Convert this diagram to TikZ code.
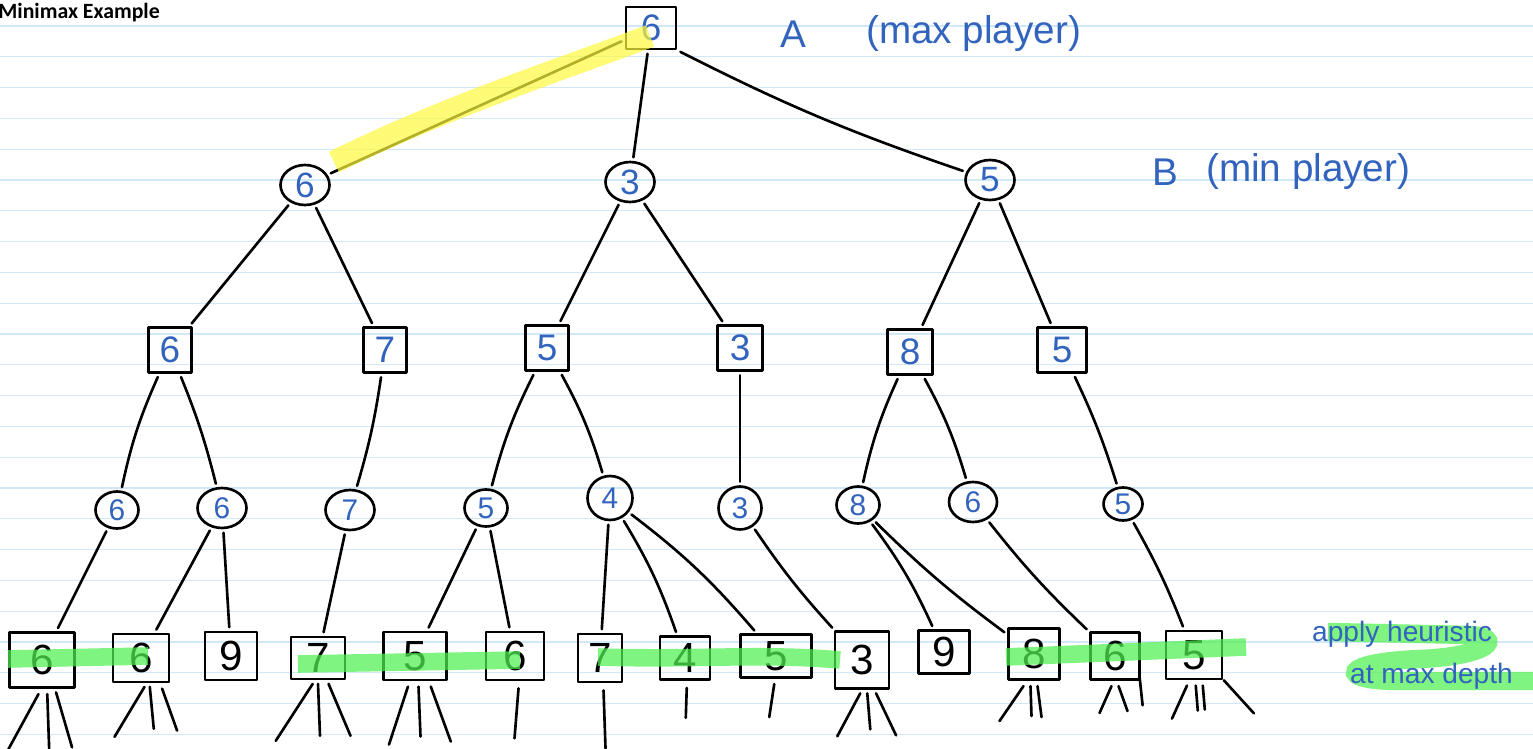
\documentclass[tikz,border=0pt]{standalone}
\usepackage{fontspec}
\setmainfont{Liberation Sans}
\newfontfamily\titlefont{Carlito}
\usetikzlibrary{shapes.geometric}
\definecolor{ink}{RGB}{50,100,190}
\definecolor{ruling}{RGB}{208,232,248}
\definecolor{hlgreen}{RGB}{80,240,80}
\definecolor{hlyellow}{RGB}{255,250,60}
\begin{document}
\begin{tikzpicture}[x=0.02cm,y=-0.02cm,
  stroke/.style={line width=1.5pt,line cap=round,line join=round},
  maxbox/.style={stroke,draw,rectangle,inner sep=0pt,minimum width=0.86cm,minimum height=0.9cm,
    text=ink,font=\fontsize{21}{21}\selectfont},
  minball/.style={stroke,draw,ellipse,inner sep=0pt,minimum width=0.86cm,minimum height=0.74cm,
    text=ink,font=\fontsize{17}{17}\selectfont},
  minbig/.style={minball,minimum width=0.98cm,minimum height=0.8cm,font=\fontsize{20}{20}\selectfont},
  leaf/.style={stroke,draw,rectangle,inner sep=0pt,minimum width=1.08cm,minimum height=0.96cm,
    font=\fontsize{24}{24}\selectfont},
  edge/.style={stroke,shorten <=2pt,shorten >=2pt},
  stub/.style={stroke},
  marker/.style={line width=10pt,line cap=butt,opacity=0.72,draw=hlgreen},
  note/.style={text=ink,font=\fontsize{22}{22}\selectfont},
  smallnote/.style={text=ink,font=\fontsize{16}{16}\selectfont}]

\useasboundingbox (0,0) rectangle (1533,749);
\fill[white] (0,0) rectangle (1533,749);

% ruled paper
\foreach \k in {0,...,23}
  \draw[ruling,line width=0.7pt] (0,26+30.8*\k) -- (1533,26+30.8*\k);

% title
\node[anchor=north west,inner sep=0pt,font=\titlefont\bfseries\fontsize{12.4}{13}\selectfont]
  (title) at (-2,3) {Minimax Example};

% root (max player)
\node[maxbox,minimum width=1.0cm,minimum height=0.84cm] (r) at (651,28) {6};

% min level
\node[minbig] (a) at (305,185) {6};
\node[minbig] (b) at (630,182) {3};
\node[minbig] (c) at (990,180) {5};

% max level
\node[maxbox] (aa) at (170,350) {6};
\node[maxbox] (ab) at (385,350) {7};
\node[maxbox] (ba) at (547,348) {5};
\node[maxbox,minimum width=0.9cm] (bb) at (740,348) {3};
\node[maxbox,minimum width=0.9cm] (ca) at (910,352) {8};
\node[maxbox,minimum width=0.98cm] (cb) at (1062,350) {5};

% min level
\node[minball] (m1) at (117,510) {6};
\node[minball,minimum width=0.98cm,minimum height=0.8cm] (m2) at (222,508) {6};
\node[minball,minimum width=0.98cm,minimum height=0.8cm] (m3) at (350,510) {7};
\node[minball] (m4) at (486,508) {5};
\node[minball,minimum width=0.9cm,minimum height=0.88cm] (m5) at (610,498) {4};
\node[minball,minimum width=0.86cm,minimum height=0.86cm] (m6) at (740,508) {3};
\node[minball] (m7) at (858,505) {8};
\node[minball,minimum width=0.96cm,minimum height=0.8cm] (m8) at (973,502) {6};
\node[minball,minimum width=0.78cm,minimum height=0.66cm] (m9) at (1123,504) {5};

% leaves
\node[leaf,minimum width=1.3cm,minimum height=1.1cm] (l1) at (42,660) {6};
\node[leaf,minimum width=1.12cm] (l2) at (141,658) {6};
\node[leaf,minimum width=1.04cm] (l3) at (231,656) {9};
\node[leaf,minimum width=1.08cm,minimum height=0.84cm] (l4) at (318,658) {7};
\node[leaf,minimum width=1.26cm] (l5) at (415,656) {5};
\node[leaf,minimum width=1.16cm] (l6) at (515,656) {6};
\node[leaf,minimum width=0.88cm] (l7) at (600,658) {7};
\node[leaf,minimum width=1.0cm,minimum height=0.86cm] (l8) at (685,658) {4};
\node[leaf,minimum width=1.42cm,minimum height=0.86cm] (l9) at (776,656) {5};
\node[leaf,minimum width=1.08cm,minimum height=1.14cm] (l10) at (862,660) {3};
\node[leaf,minimum width=1.02cm,minimum height=0.86cm] (l11) at (944,652) {9};
\node[leaf,minimum width=1.02cm,minimum height=1.02cm] (l12) at (1034,654) {8};
\node[leaf,minimum width=0.98cm,minimum height=0.94cm] (l13) at (1115,656) {6};
\node[leaf,minimum width=1.12cm] (l14) at (1194,655) {5};

% tree edges
\draw[edge] (r) -- (a);
\draw[edge] (r) -- (b);
\draw[edge] (r.south east) to[bend right=4] (c);
\draw[edge] (a) -- (aa);
\draw[edge] (a) -- (ab);
\draw[edge] (b) -- (ba);
\draw[edge] (b) -- (bb);
\draw[edge] (c) -- (ca);
\draw[edge] (c) -- (cb);
\draw[edge] (aa) to[bend right=6] (m1);
\draw[edge] (aa) to[bend left=4] (m2);
\draw[edge] (ab) to[bend left=4] (m3);
\draw[edge] (ba) to[bend right=6] (m4);
\draw[edge] (ba) to[bend left=6] (m5);
\draw[edge] (bb) -- (m6);
\draw[edge] (ca) to[bend right=6] (m7);
\draw[edge] (ca) to[bend left=6] (m8);
\draw[edge] (cb) to[bend left=4] (m9);
\draw[edge] (m1) -- (l1);
\draw[edge] (m2) -- (l2);
\draw[edge] (m2) -- (l3);
\draw[edge] (m3) -- (l4);
\draw[edge] (m4) -- (l5);
\draw[edge] (m4) -- (l6);
\draw[edge] (m5) -- (l7);
\draw[edge] (m5) to[bend left=6] (l8);
\draw[edge] (m5) to[bend left=6] (l9);
\draw[edge] (m6) to[bend right=4] (l10);
\draw[edge] (m7) to[bend left=6] (l11);
\draw[edge] (m7) to[bend right=4] (l12);
\draw[edge] (m8) to[bend right=4] (l13);
\draw[edge] (m9) to[bend left=4] (l14);

% unexpanded subtrees below the depth limit
\draw[stub] ([xshift=-2pt,yshift=-3pt]l1.south) -- ++(-30,55);
\draw[stub] ([xshift=3pt,yshift=-3pt]l1.south) -- ++(2,58);
\draw[stub] ([xshift=8pt,yshift=-2pt]l1.south) -- ++(16,55);
\draw[stub] ([xshift=2pt,yshift=-2pt]l2.south) -- ++(-30,50);
\draw[stub] ([xshift=5pt,yshift=-2pt]l2.south) -- ++(4,42);
\draw[stub] ([xshift=12pt,yshift=-3pt]l2.south) -- ++(15,42);
\draw[stub] ([xshift=-3pt,yshift=-2pt]l4.south) -- ++(-37,57);
\draw[stub] ([xshift=0pt,yshift=-2pt]l4.south) -- ++(2,52);
\draw[stub] ([xshift=6pt,yshift=-2pt]l4.south) -- ++(22,52);
\draw[stub] ([xshift=-4pt,yshift=-3pt]l5.south) -- ++(-19,58);
\draw[stub] ([xshift=2pt,yshift=-3pt]l5.south) -- ++(2,50);
\draw[stub] ([xshift=9pt,yshift=-3pt]l5.south) -- ++(20,55);
\draw[stub] ([xshift=2pt,yshift=-4pt]l6.south) -- ++(-4,50);
\draw[stub] ([xshift=2pt,yshift=-4pt]l7.south) -- ++(2,58);
\draw[stub] ([xshift=1pt,yshift=-4pt]l8.south) -- ++(-1,30);
\draw[stub] ([xshift=-1pt,yshift=-3pt]l9.south) -- ++(-5,33);
\draw[stub] ([xshift=-1pt,yshift=-2pt]l10.south) -- ++(-23,43);
\draw[stub] ([xshift=3pt,yshift=-2pt]l10.south) -- ++(3,36);
\draw[stub] ([xshift=8pt,yshift=-2pt]l10.south) -- ++(20,42);
\draw[stub] ([xshift=-6pt,yshift=-3pt]l12.south) -- ++(-24,35);
\draw[stub] ([xshift=-2pt,yshift=-3pt]l12.south) -- ++(1,30);
\draw[stub] ([xshift=2pt,yshift=-3pt]l12.south) -- ++(4,31);
\draw[stub] ([xshift=-2pt,yshift=-3pt]l13.south) -- ++(-12,27);
\draw[stub] ([xshift=2pt,yshift=-3pt]l13.south) -- ++(9,25);
\draw[stub] ([xshift=14pt,yshift=2pt]l13.south) -- ++(3,28);
\draw[stub] ([xshift=-4pt,yshift=-3pt]l14.south) -- ++(-15,33);
\draw[stub] ([xshift=1pt,yshift=-3pt]l14.south) -- ++(2,25);
\draw[stub] ([xshift=5pt,yshift=-3pt]l14.south) -- ++(2,24);
\draw[stub] ([xshift=17pt,yshift=0pt]l14.south) -- ++(30,33);

% highlighted best move from the root
\coordinate (ystart) at (334,162);
\coordinate (yend) at (650,36);
\draw[line width=13pt,line cap=butt,draw=hlyellow,opacity=0.7] (ystart) .. controls (450,105) and (560,70) .. (yend);

% highlighted leaves evaluated by the heuristic
\draw[marker] (8,659) -- (148,656);
\draw[marker] (298,664) -- (520,660);
\draw[marker] (598,657) .. controls (700,660) and (760,653) .. (840,660);
\draw[marker] (1006,657) -- (1246,647);
\draw[marker,line width=10.5pt] (1328,632) -- (1470,635)
  .. controls (1505,637) and (1490,656) .. (1420,659)
  .. controls (1340,662) and (1335,681) .. (1400,681) -- (1533,681);

% player labels and note
\node[note,anchor=west] (labA) at (774,34) {A};
\node[note,anchor=west] (labAp) at (860,34) {(max player)};
\node[note,anchor=west] (labB) at (1146,172) {B};
\node[note,anchor=west] (labBp) at (1200,172) {(min player)};
\node[smallnote,anchor=west] (noteA) at (1306,634) {apply heuristic};
\node[smallnote,anchor=west] (noteB) at (1344,676) {at max depth};
\end{tikzpicture}
\end{document}
